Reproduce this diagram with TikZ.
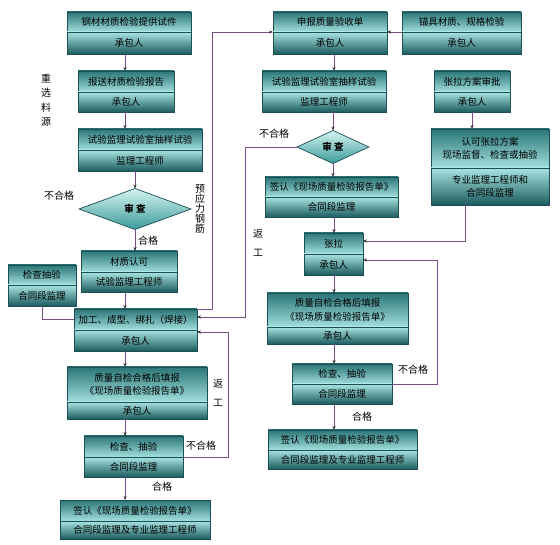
\documentclass[tikz,border=0pt]{standalone}
\usepackage{fontspec}
\setmainfont{Noto Sans CJK SC}
\usetikzlibrary{arrows.meta,shapes.geometric,calc}
\definecolor{boxline}{HTML}{1B4F55}
\definecolor{aTop}{HTML}{2C7677}
\definecolor{aMid}{HTML}{5FAEAE}
\definecolor{aBot}{HTML}{A2E0DE}
\definecolor{bTop}{HTML}{A8E4E2}
\definecolor{bMid}{HTML}{5AA8A8}
\definecolor{bBot}{HTML}{1C5C5E}
\definecolor{dTop}{HTML}{D6F5F3}
\definecolor{dBot}{HTML}{3A9A98}
\definecolor{conn}{HTML}{7A4B86}
\tikzset{
  sectbase/.style={draw=boxline,line width=0.7pt,inner sep=0pt,outer sep=0pt,align=center,
    font=\fontsize{9.5}{13.5}\selectfont,text=black},
  secta/.style={sectbase,top color=aTop,middle color=aMid,bottom color=aBot},
  sectb/.style={sectbase,top color=bTop,middle color=bMid,bottom color=bBot},
  chk/.style={diamond,draw=boxline,line width=0.7pt,top color=dTop,bottom color=dBot,inner sep=0pt,
    outer sep=0pt,font=\fontsize{9.5}{12}\selectfont\bfseries},
  arr/.style={draw=conn,line width=0.7pt,-{Stealth[length=4pt,width=3.2pt,color=black!80]}},
  ln/.style={draw=conn,line width=0.7pt},
  lbl/.style={font=\fontsize{10}{12}\selectfont,inner sep=0pt,align=center},
  vlbl/.style={font=\fontsize{10}{14.5}\selectfont,inner sep=0pt,align=center},
}
\newcommand\tbox[8]{%
  \node[secta,minimum width={#3pt-#2pt},minimum height={#5pt-#4pt}] (#1t) at ({(#2+#3)/2},{(#4+#5)/2}) {#7};
  \node[sectb,minimum width={#3pt-#2pt},minimum height={#6pt-#5pt}] (#1b) at ({(#2+#3)/2},{(#5+#6)/2}) {#8};
}
\begin{document}
\begin{tikzpicture}[x=1pt,y=-1pt]
\fill[white] (0,0) rectangle (560,545);
\useasboundingbox (0,0) rectangle (560,545);
% left column
\tbox{B1}{67}{191}{12}{32}{54}{钢材材质检验提供试件}{承包人}
\tbox{B2}{78}{174}{71}{92}{112}{报送材质检验报告}{承包人}
\tbox{B3}{78}{202}{129}{150}{171}{试验监理试验室抽样试验}{监理工程师}
\node[chk,minimum width=112pt,minimum height=41pt] (D1) at (135,209) {审\ 查};
\tbox{B5}{81}{177}{251}{272}{292}{材质认可}{试验监理工程师}
\tbox{B6}{8}{76}{265}{285}{306}{检查抽验}{合同段监理}
\tbox{B7}{74}{197}{309}{330}{351}{加工、成型、绑扎（焊接）}{承包人}
\tbox{B8}{67}{207}{367}{402}{419}{质量自检合格后填报\\《现场质量检验报告单》}{承包人}
\tbox{B9}{84}{183}{436}{457}{477}{检查、抽验}{合同段监理}
\tbox{B10}{60}{210}{500}{521}{539}{签认《现场质量检验报告单》}{合同段监理及专业监理工程师}
% right part
\tbox{B11}{273}{387}{12}{32}{54}{申报质量验收单}{承包人}
\tbox{B12}{402}{521}{12}{32}{54}{锚具材质、规格检验}{承包人}
\tbox{B13}{262}{386}{71}{92}{112}{试验监理试验室抽样试验}{监理工程师}
\tbox{B14}{434}{510}{71}{92}{112}{张拉方案审批}{承包人}
\node[chk,minimum width=72pt,minimum height=33pt] (D2) at (333,147) {审\ 查};
\tbox{B16}{265}{398}{177}{197}{217}{签认《现场质量检验报告单》}{合同段监理}
\tbox{B17}{431}{549}{129}{168}{205}{认可张拉方案\\现场监督、检查或抽验}{专业监理工程师和\\合同段监理}
\tbox{B18}{304}{363}{233}{254}{275}{张拉}{承包人}
\tbox{B19}{267}{408}{293}{327}{344}{质量自检合格后填报\\《现场质量检验报告单》}{承包人}
\tbox{B20}{292}{392}{364}{384}{404}{检查、抽验}{合同段监理}
\tbox{B21}{268}{417}{430}{450}{469}{签认《现场质量检验报告单》}{合同段监理及专业监理工程师}
% column coordinates
\coordinate (colL) at (125,0);
\coordinate (colR) at (334,0);
\coordinate (k1) at (212,0);
\coordinate (r1) at (245,317);
\coordinate (k2) at (465,241);
\coordinate (k3) at (437,260);
\coordinate (k4) at (228,332);
% left connectors
\draw[arr] (colL |- B1b.south) -- (colL |- B2t.north);
\draw[arr] (colL |- B2b.south) -- (colL |- B3t.north);
\draw[arr] (D1.north |- B3b.south) -- (D1.north);
\draw[arr] (D1.south) -- (D1.south |- B5t.north);
\draw[arr] (colL |- B5b.south) -- (colL |- B7t.north);
\draw[ln] (B6b.south) |- (B7t.west);
\draw[arr] (colL |- B7b.south) -- (colL |- B8t.north);
\draw[arr] (colL |- B8b.south) -- (colL |- B9t.north);
\draw[arr] (colL |- B9b.south) -- (colL |- B10t.north);
\draw[arr] (B9t.south east) -| (k4) -- (k4 -| B7b.east);
\draw[arr] (B7t.north east) -- (k1 |- B7t.north east) -- (k1 |- B11t.south west) -- (B11t.south west);
% right connectors
\draw[arr] (B12t.south west) -- (B11t.south east);
\draw[arr] (colR |- B11b.south) -- (colR |- B13t.north);
\draw[arr] (D2.north |- B13b.south) -- (D2.north);
\draw[arr] (D2.south) -- (D2.south |- B16t.north);
\draw[arr] (colR |- B16b.south) -- (colR |- B18t.north);
\draw[arr] (D2.west) -| (r1) -- (r1 -| B7t.east);
\draw[arr] (B14b.south) -- (B14b.south |- B17t.north);
\draw[arr] (k2 |- B17b.south) -- (k2) -- (k2 -| B18t.east);
\draw[arr] (colR |- B18b.south) -- (colR |- B19t.north);
\draw[arr] (colR |- B19b.south) -- (colR |- B20t.north);
\draw[arr] (colR |- B20b.south) -- (colR |- B21t.north);
\draw[arr] (B20t.south east) -| (k3) -- (k3 -| B18b.east);
% labels
\node[vlbl] (L1) at (46,100) {重\\选\\料\\源};
\node[lbl] (L2) at (59,196) {不合格};
\node[lbl] (L3) at (148,241) {合格};
\node[font=\fontsize{10}{9.8}\selectfont,inner sep=0pt,align=center] (L4) at (200,209) {预\\应\\力\\钢\\筋};
\node[lbl] (L5) at (274,134) {不合格};
\node[vlbl] (L6) at (258,243) {返\\[4pt]工};
\node[vlbl] (L7) at (218,393) {返\\[5pt]工};
\node[lbl] (L8) at (201,446) {不合格};
\node[lbl] (L9) at (162,487) {合格};
\node[lbl] (L10) at (413,370) {不合格};
\node[lbl] (L11) at (362,417) {合格};
\end{tikzpicture}
\end{document}
